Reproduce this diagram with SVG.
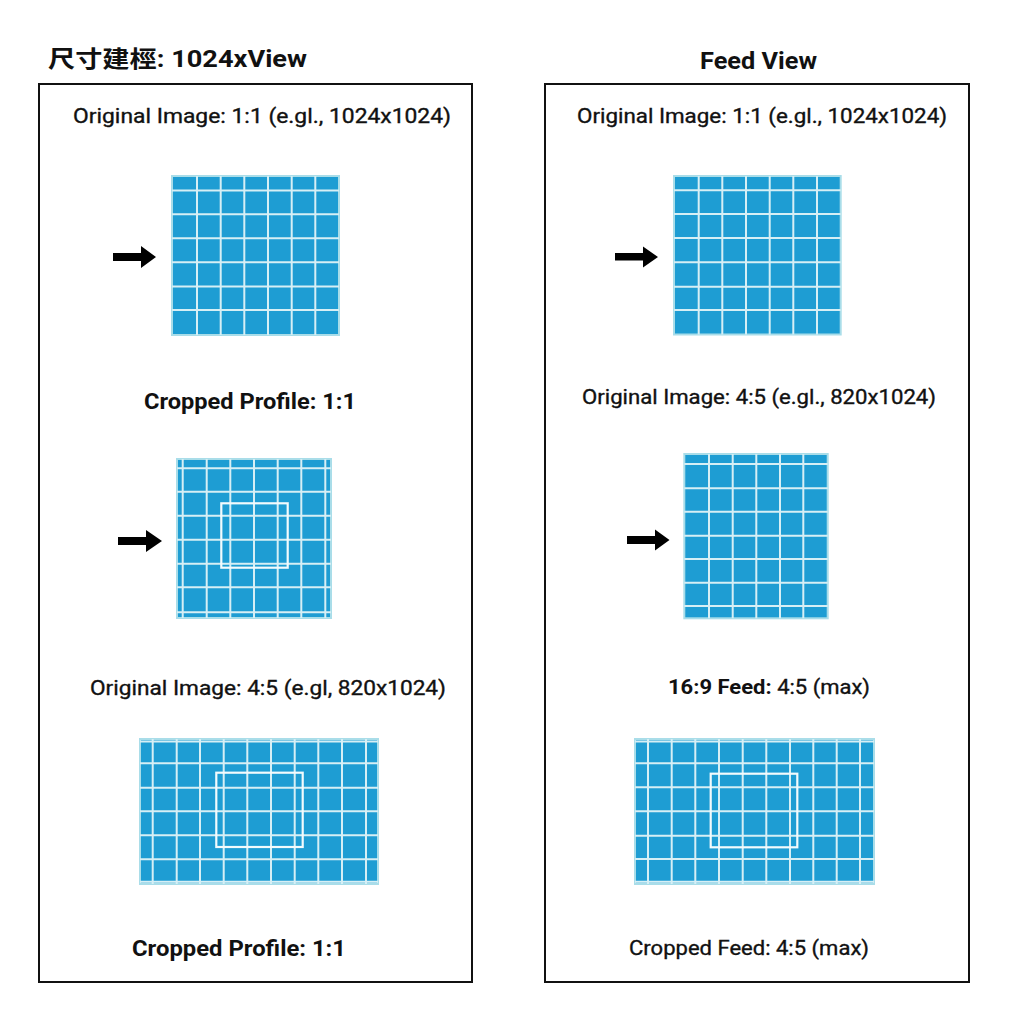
<svg xmlns="http://www.w3.org/2000/svg" width="1024" height="1024" viewBox="0 0 1024 1024">
<defs>
<style>
.bg{fill:#ffffff}
.panel{fill:none;stroke:#111111;stroke-width:2}
.t{font-family:Roboto,"Liberation Sans","Noto Sans CJK SC",sans-serif;fill:#111111}
.r{font-size:21px;font-weight:400;stroke:#111111;stroke-width:0.35}
.b{font-size:22px;font-weight:700}
.h{font-size:23px;font-weight:700}
.gfill{fill:#1e9dd3;stroke:#a9dde9;stroke-width:2}
.gl{fill:none;stroke:#d6eff5;stroke-width:2}
.crop{fill:none;stroke:#f2fbfd;stroke-width:2.2}
.arr{fill:#000000}
</style>
</defs>
<rect class="bg" x="0" y="0" width="1024" height="1024"/>

<g id="titles">
<text class="t h" x="48" y="67" textLength="259" lengthAdjust="spacingAndGlyphs" font-family="Roboto,'Noto Sans CJK SC',sans-serif">尺寸建桱: 1024xView</text>
<text class="t h" x="700" y="69" textLength="117" lengthAdjust="spacingAndGlyphs">Feed View</text>
</g>

<g id="panel-left">
<rect class="panel" x="39" y="84" width="433" height="898"/>
<text class="t r" x="73" y="123" textLength="378" lengthAdjust="spacingAndGlyphs">Original Image: 1:1 (e.gl., 1024x1024)</text>
<text class="t b" x="144" y="409" textLength="212" lengthAdjust="spacingAndGlyphs">Cropped Profile: 1:1</text>
<text class="t r" x="90" y="695" textLength="356" lengthAdjust="spacingAndGlyphs">Original Image: 4:5 (e.gl, 820x1024)</text>
<text class="t b" x="132" y="956" textLength="214" lengthAdjust="spacingAndGlyphs">Cropped Profile: 1:1</text>
</g>

<g id="panel-right">
<rect class="panel" x="545" y="84" width="424" height="898"/>
<text class="t r" x="577" y="123" textLength="370" lengthAdjust="spacingAndGlyphs">Original Image: 1:1 (e.gl., 1024x1024)</text>
<text class="t r" x="582" y="404" textLength="354" lengthAdjust="spacingAndGlyphs">Original Image: 4:5 (e.gl., 820x1024)</text>
<text class="t r" x="668" y="694" textLength="202" lengthAdjust="spacingAndGlyphs"><tspan font-weight="700" stroke-width="0">16:9 Feed:</tspan> 4:5 (max)</text>
<text class="t r" x="629" y="955" textLength="240" lengthAdjust="spacingAndGlyphs">Cropped Feed: 4:5 (max)</text>
</g>

<g id="grid-left-1">
<rect class="gfill" x="172" y="176" width="167" height="159"/>
<path class="gl" d="M197 176V335M220.7 176V335M244.3 176V335M268 176V335M291.7 176V335M315.3 176V335M172 190.5H339M172 214.3H339M172 238.3H339M172 262.3H339M172 286.5H339M172 310H339"/>
</g>

<g id="grid-left-2">
<rect class="gfill" x="177" y="459" width="154" height="159"/>
<path class="gl" d="M182.7 459V618M206.7 459V618M230.3 459V618M254 459V618M277.7 459V618M301.3 459V618M325.3 459V618M177 468.3H331M177 491.7H331M177 515.7H331M177 539.7H331M177 563.7H331M177 587.3H331M177 612.3H331"/>
<rect class="crop" x="221.3" y="503.3" width="66.4" height="64.4"/>
</g>

<g id="grid-left-3">
<rect class="gfill" x="140" y="739" width="238" height="145"/>
<path class="gl" d="M152.7 739V884M176.7 739V884M200 739V884M223.7 739V884M247.3 739V884M271 739V884M294.7 739V884M318.3 739V884M342 739V884M366 739V884M140 741.5H378M140 763.3H378M140 787.7H378M140 811.3H378M140 835.3H378M140 859.3H378M140 881.7H378"/>
<rect class="crop" x="216.3" y="772.7" width="86.4" height="74.3"/>
</g>

<g id="grid-right-1">
<rect class="gfill" x="674" y="176" width="166.7" height="158.5"/>
<path class="gl" d="M698.7 176V334.5M722.3 176V334.5M746 176V334.5M769.7 176V334.5M793.3 176V334.5M817 176V334.5M674 190.3H840.7M674 214H840.7M674 238H840.7M674 262.3H840.7M674 286.7H840.7M674 310H840.7"/>
</g>

<g id="grid-right-2">
<rect class="gfill" x="684.3" y="454" width="143.4" height="164.3"/>
<path class="gl" d="M709 454V618.3M732.7 454V618.3M756.3 454V618.3M780 454V618.3M803.3 454V618.3M684.3 464H827.7M684.3 488.3H827.7M684.3 511.7H827.7M684.3 535.7H827.7M684.3 559H827.7M684.3 582.7H827.7M684.3 606H827.7"/>
</g>

<g id="grid-right-3">
<rect class="gfill" x="635" y="739" width="239" height="145"/>
<path class="gl" d="M648 739V884M671.7 739V884M695.3 739V884M719 739V884M742.7 739V884M766.3 739V884M790 739V884M813.3 739V884M836.7 739V884M860 739V884M635 741.5H874M635 763.3H874M635 787.3H874M635 811.3H874M635 835.7H874M635 859H874M635 881.7H874"/>
<rect class="crop" x="710.7" y="773.7" width="86.6" height="73.6"/>
</g>

<g id="connectors">
<polygon class="arr" points="113,253 141,253 141,246 156,257 141,268 141,261 113,261"/>
<polygon class="arr" points="118,537 146,537 146,530 162,541 146,552 146,545 118,545"/>
<polygon class="arr" points="615,253 643,253 643,246.5 658,257 643,267.5 643,260.5 615,260.5"/>
<polygon class="arr" points="627,536 655,536 655,529.5 669.5,540 655,550.5 655,544 627,544"/>
</g>
</svg>
